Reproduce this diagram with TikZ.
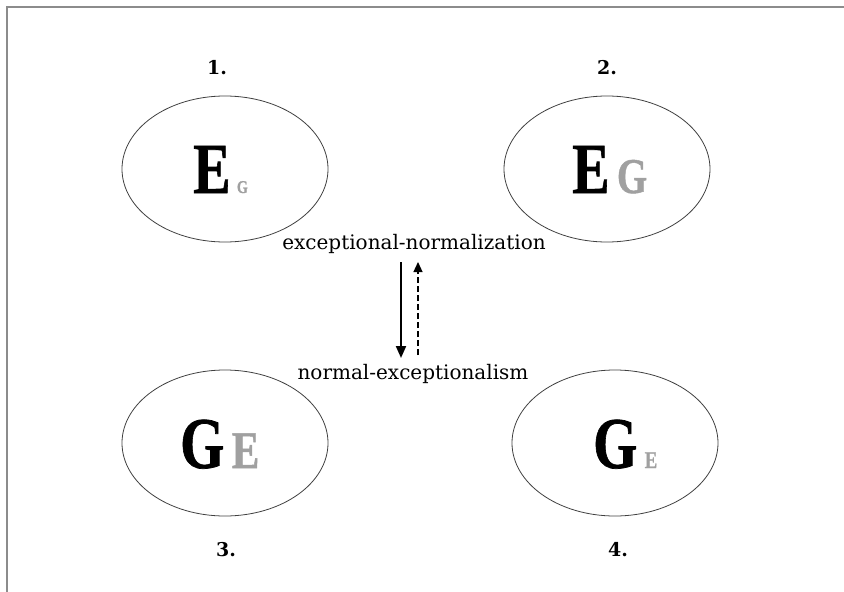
\documentclass[tikz,border=0pt]{standalone}
\usepackage{fontspec}
\setmainfont{DejaVu Serif}
\newfontfamily\letterfont[FakeBold=1]{Liberation Serif}
\usetikzlibrary{arrows.meta,shapes.geometric,positioning,calc}
\definecolor{lettergray}{RGB}{160,160,160}
\tikzstyle{blob} = [ellipse,draw=black!75,line width=0.8pt,minimum width=206pt,minimum height=146pt,inner sep=0]
\tikzstyle{num} = [font=\fontsize{19}{19}\selectfont\bfseries,inner sep=0]
\tikzstyle{word} = [font=\fontsize{20}{20}\selectfont,inner sep=0]
\tikzstyle{let} = [inner sep=0,anchor=base west,xscale=0.78]
\newcommand{\ltr}[1]{\fontsize{#1}{#1}\selectfont\letterfont\bfseries}

\begin{document}
\begin{tikzpicture}[x=1pt,y=1pt]
        \useasboundingbox (0,0) rectangle (844,-592);
        \draw[black!45,line width=2pt] (7,-592) -- (7,-7) -- (844,-7);

        \node[blob] (s1) at (225,-169) {};
        \node[blob] (s2) at (607,-169) {};
        \node[blob] (s3) at (225,-443) {};
        \node[blob] (s4) at (615,-443) {};

        \node[num] (n1) at (217,-68) {1.};
        \node[num] (n2) at (607,-68) {2.};
        \node[num] (n3) at (226,-550) {3.};
        \node[num] (n4) at (618,-550) {4.};

        \node[let,font=\ltr{72}] (e1) at (193,-193) {E};
        \node[let,font=\ltr{18},text=lettergray] (g1) at ($(e1.base east)+(6,0)$) {G};
        \node[let,font=\ltr{72}] (e2) at (572,-193) {E};
        \node[let,font=\ltr{50},text=lettergray] (g2) at ($(e2.base east)+(7,0)$) {G};
        \node[let,font=\ltr{73}] (g3) at (180,-468) {G};
        \node[let,font=\ltr{53},text=lettergray] (e3) at ($(g3.base east)+(7,0)$) {E};
        \node[let,font=\ltr{73}] (g4) at (593,-468) {G};
        \node[let,font=\ltr{24},text=lettergray] (e4) at ($(g4.base east)+(7,0)$) {E};

        \node[word] (up) at (414,-244) {exceptional-normalization};
        \node[word] (down) at (413,-374) {normal-exceptionalism};

        \coordinate (a1) at (401,-262);
        \coordinate (a2) at (401,-358);
        \coordinate (b1) at (418,-355);
        \coordinate (b2) at (418,-262);
        \draw[-{Triangle[length=12pt,width=10pt]},line width=2pt] (a1) to (a2);
        \draw[-{Triangle[length=10pt,width=9pt]},dash pattern=on 6pt off 3pt,line width=1.2pt] (b1) to (b2);
\end{tikzpicture}
\end{document}
